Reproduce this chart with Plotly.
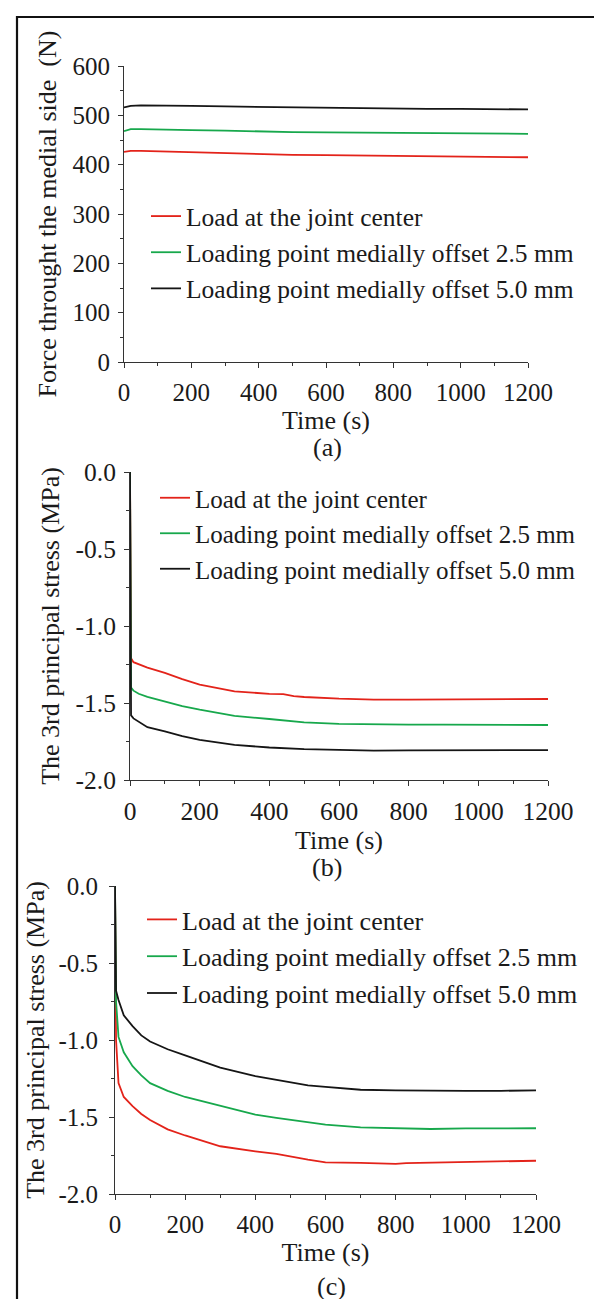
import plotly.graph_objects as go

W, H = 602, 1299

# ---------------- data ----------------
series_names = ["Load at the joint center",
                "Loading point medially offset 2.5 mm",
                "Loading point medially offset 5.0 mm"]
series_colors = ["#E3231A", "#17A84C", "#151515"]

time_ticks = [0, 200, 400, 600, 800, 1000, 1200]
time_tick_text = ["0", "200", "400", "600", "800", "1000", "1200"]

force_ticks = [0, 100, 200, 300, 400, 500, 600]
force_tick_text = ["0", "100", "200", "300", "400", "500", "600"]

stress_ticks = [-2.0, -1.5, -1.0, -0.5, 0.0]
stress_tick_text = ["-2.0", "-1.5", "-1.0", "-0.5", "0.0"]

# panel (a): force through the medial side (N)
t_a = [0, 20, 50, 100, 200, 300, 400, 500, 600, 700, 800, 900, 1000, 1100, 1200]
red_a = [426, 428, 428, 427, 425, 423, 421, 420, 419.5, 418.5, 417.5, 417, 416.5, 415.5, 415]
green_a = [468, 472, 472, 471, 470, 469, 467, 466, 465.5, 465, 464.5, 464, 463, 462.5, 462.5]
black_a = [516, 519, 520, 520, 519, 518, 517, 516, 515, 515, 514, 513, 513, 512.5, 512]

# panel (b): 3rd principal stress (MPa)
t_b = [0, 3, 10, 25, 50, 100, 150, 200, 300, 400, 440, 470, 500, 600, 700, 800, 900, 1000, 1100, 1200]
red_b = [0, -1.21, -1.235, -1.25, -1.27, -1.304, -1.345, -1.38, -1.424, -1.441, -1.443, -1.455,
         -1.461, -1.472, -1.478, -1.478, -1.478, -1.478, -1.478, -1.474]
green_b = [0, -1.40, -1.42, -1.44, -1.46, -1.489, -1.52, -1.543, -1.583, -1.604, -1.612, -1.62,
           -1.626, -1.635, -1.639, -1.640, -1.641, -1.643, -1.643, -1.643]
black_b = [0, -1.58, -1.60, -1.62, -1.657, -1.685, -1.715, -1.739, -1.772, -1.789, -1.794, -1.797,
           -1.80, -1.804, -1.809, -1.808, -1.808, -1.808, -1.807, -1.806]

# panel (c): 3rd principal stress (MPa)
t_c = [0, 3, 10, 25, 50, 75, 100, 150, 200, 250, 300, 400, 460, 550, 600, 700, 800, 830, 900,
       1000, 1100, 1200]
red_c = [0, -1.0, -1.28, -1.37, -1.43, -1.48, -1.52, -1.58, -1.62, -1.655, -1.69, -1.723, -1.74,
         -1.777, -1.794, -1.798, -1.805, -1.799, -1.797, -1.792, -1.788, -1.784]
green_c = [0, -0.75, -0.98, -1.08, -1.17, -1.23, -1.28, -1.33, -1.37, -1.40, -1.43, -1.485, -1.505,
           -1.535, -1.55, -1.568, -1.573, -1.574, -1.578, -1.574, -1.573, -1.573]
black_c = [0, -0.68, -0.74, -0.84, -0.91, -0.97, -1.01, -1.06, -1.10, -1.14, -1.18, -1.235, -1.26,
           -1.295, -1.305, -1.323, -1.327, -1.328, -1.329, -1.331, -1.33, -1.327]

panel_labels = ["(a)", "(b)", "(c)"]
y_titles = ["Force throught the medial side\u00a0\u00a0(N)",
            "The 3rd principal stress (MPa)",
            "The 3rd principal stress (MPa)"]
x_title = "Time (s)"

# ---------------- figure ----------------
FONT = "Liberation Serif, Times New Roman, serif"
AX = "#333333"
TXT = "#1a1a1a"

fig = go.Figure()

panels = [
    (t_a, [red_a, green_a, black_a], "x", "y", "legend"),
    (t_b, [red_b, green_b, black_b], "x2", "y2", "legend2"),
    (t_c, [red_c, green_c, black_c], "x3", "y3", "legend3"),
]
for t, ys, xa, ya, lg in panels:
    for name, col, yv in zip(series_names, series_colors, ys):
        fig.add_trace(go.Scatter(x=t, y=yv, mode="lines", name=name, xaxis=xa, yaxis=ya,
                                 legend=lg, line=dict(color=col, width=1.8)))

def px_x(v):
    return v / W

def px_y(v):
    return 1 - v / H

def xaxis(dom, fs, standoff, tls):
    return dict(domain=[px_x(dom[0]), px_x(dom[1])], range=[0, 1200],
                tickvals=time_ticks, ticktext=time_tick_text,
                showline=True, linecolor=AX, linewidth=1, ticks="outside", ticklen=5,
                tickcolor=AX, tickwidth=1, ticklabelstandoff=tls,
                minor=dict(ticks="outside", ticklen=3, dtick=100, tickcolor=AX),
                showgrid=False, zeroline=False, automargin=False,
                tickfont=dict(family=FONT, size=fs, color=TXT),
                title=dict(text=x_title, font=dict(family=FONT, size=26, color=TXT),
                           standoff=standoff))

def yaxis(dom, rng, tv, tt, mdt, fs, title, standoff, tls):
    return dict(domain=[px_y(dom[1]), px_y(dom[0])], range=rng,
                tickvals=tv, ticktext=tt,
                showline=True, linecolor=AX, linewidth=1, ticks="outside", ticklen=5,
                tickcolor=AX, tickwidth=1, ticklabelstandoff=tls,
                minor=dict(ticks="outside", ticklen=3, dtick=mdt, tickcolor=AX),
                showgrid=False, zeroline=False, automargin=False,
                tickfont=dict(family=FONT, size=fs, color=TXT),
                title=dict(text=title, font=dict(family=FONT, size=26, color=TXT),
                           standoff=standoff))

def legend(x, y, fs):
    return dict(x=px_x(x), y=px_y(y), xanchor="left", yanchor="top",
                bgcolor="rgba(0,0,0,0)", borderwidth=0, tracegroupgap=0,
                font=dict(family=FONT, size=fs, color=TXT))

fig.update_layout(
    width=W, height=H, margin=dict(l=0, r=0, t=0, b=0),
    paper_bgcolor="white", plot_bgcolor="white",
    showlegend=True,
    xaxis=dict(xaxis((116, 520), 25, 3, 3), anchor="y"),
    yaxis=dict(yaxis((58, 354), [0, 600], force_ticks, force_tick_text, 50, 25,
                     y_titles[0], 8, 3), anchor="x"),
    xaxis2=dict(xaxis((122, 540), 25.5, 3, 3), anchor="y2"),
    yaxis2=dict(yaxis((464, 772), [-2, 0], stress_ticks, stress_tick_text, 0.25, 25.5,
                      y_titles[1], 8, 3), anchor="x2"),
    xaxis3=dict(xaxis((107, 528), 25, 3, 3), anchor="y3"),
    yaxis3=dict(yaxis((878, 1186), [-2, 0], stress_ticks, stress_tick_text, 0.25, 25,
                      y_titles[2], 6, 6), anchor="x3"),
    legend=legend(138, 185, 25.5),
    legend2=legend(147, 467, 25),
    legend3=legend(134, 888, 26),
)

# panel captions
for lab, (cx, cy) in zip(panel_labels, [(319, 439), (319, 859), (323, 1278)]):
    fig.add_annotation(text=lab, xref="paper", yref="paper", x=px_x(cx), y=px_y(cy),
                       xanchor="center", yanchor="middle", showarrow=False,
                       font=dict(family=FONT, size=26, color=TXT))

# outer frame (left and top edges)
fig.add_shape(type="path", xref="paper", yref="paper",
              path=f"M {px_x(9)},{px_y(H + 5)} L {px_x(9)},{px_y(9)} L {px_x(W + 5)},{px_y(9)}",
              line=dict(color="#111111", width=2.2))

fig.write_html("out.html")
